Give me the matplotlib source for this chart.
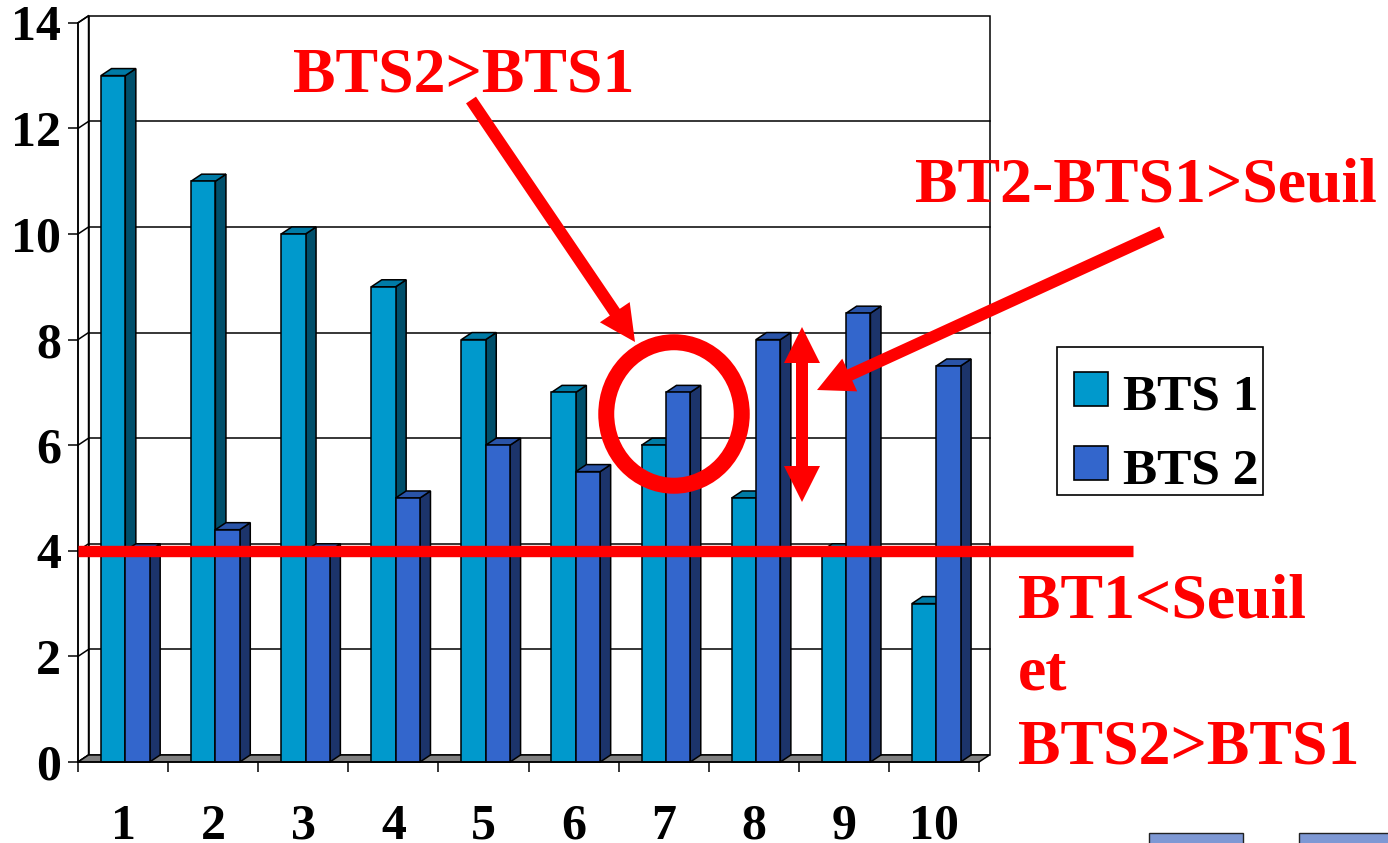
import numpy as np
import matplotlib
matplotlib.use("Agg")
import matplotlib.pyplot as plt
from matplotlib.patches import Polygon, Rectangle, Ellipse, FancyArrow

# data
categories = ["1", "2", "3", "4", "5", "6", "7", "8", "9", "10"]
series_names = ["BTS 1", "BTS 2"]
bts1 = [13, 11, 10, 9, 8, 7, 6, 5, 4, 3]
bts2 = [4, 4.4, 4, 5, 6, 5.5, 7, 8, 8.5, 7.5]
seuil = 4
y_ticks = [0, 2, 4, 6, 8, 10, 12, 14]

front_colors = ["#0099CC", "#3366CC"]
top_colors = ["#007BA6", "#2A54A8"]
side_colors = ["#004F6B", "#1C346B"]

plt.rcParams["font.family"] = "Liberation Serif"
plt.rcParams["font.weight"] = "bold"

W, H = 1388, 843
fig = plt.figure(figsize=(W / 100, H / 100), dpi=100)
ax = fig.add_axes([78 / W, 81 / H, 901 / W, 739.2 / H])
ymax = y_ticks[-1]
ax.set_xlim(0.5, len(categories) + 0.5)
ax.set_ylim(0, ymax)
ax.patch.set_visible(False)

DX, DY = 0.117, 0.133  # depth offset of the fake 3d box
x0, x1 = 0.5, len(categories) + 0.5
lw = 1.1

# walls and floor
ax.add_patch(Rectangle((x0 + DX, DY), x1 - x0, ymax, fc="white", ec="black",
                       lw=lw, clip_on=False, zorder=0))
ax.add_patch(Polygon([(x0, 0), (x0, ymax), (x0 + DX, ymax + DY), (x0 + DX, DY)],
                     closed=True, fc="white", ec="black", lw=lw, clip_on=False, zorder=0))
for v in y_ticks[1:-1]:
    ax.plot([x0 + DX, x1 + DX], [v + DY, v + DY], color="black", lw=lw, clip_on=False, zorder=1)
for v in y_ticks:
    ax.plot([x0, x0 + DX], [v, v + DY], color="black", lw=lw, clip_on=False, zorder=1)
ax.add_patch(Polygon([(x0, 0), (x1, 0), (x1 + DX, DY), (x0 + DX, DY)], closed=True,
                     fc="#808080", ec="black", lw=lw, clip_on=False, zorder=1))

# bars
bw = 0.27
offsets = [-0.245, 0.025]
for s, vals in enumerate([bts1, bts2]):
    for i, v in enumerate(vals):
        left = i + 1 + offsets[s]
        right = left + bw
        z = 3 + s
        ax.add_patch(Polygon([(right, 0), (right + DX, DY), (right + DX, v + DY), (right, v)],
                             closed=True, fc=side_colors[s], ec="black", lw=lw, zorder=z, clip_on=False))
        ax.add_patch(Polygon([(left, v), (right, v), (right + DX, v + DY), (left + DX, v + DY)],
                             closed=True, fc=top_colors[s], ec="black", lw=lw, zorder=z, clip_on=False))
        ax.add_patch(Rectangle((left, 0), bw, v, fc=front_colors[s], ec="black", lw=lw,
                               zorder=z, clip_on=False))

# axes
for sp in ["top", "right"]:
    ax.spines[sp].set_visible(False)
for sp in ["left", "bottom"]:
    ax.spines[sp].set_linewidth(lw)
    ax.spines[sp].set_zorder(6)
ax.set_yticks(y_ticks)
ax.set_yticklabels([str(t) for t in y_ticks])
ax.tick_params(axis="y", length=7.2, width=lw, pad=5, labelsize=36)
ax.set_xticks(np.arange(0.5, len(categories) + 1, 1))
ax.set_xticklabels([])
ax.set_xticks(np.arange(1, len(categories) + 1), minor=True)
ax.set_xticklabels(categories, minor=True)
ax.tick_params(axis="x", which="major", length=7.5, width=lw)
ax.tick_params(axis="x", which="minor", length=0, pad=30, labelsize=36)

# threshold line
ax.plot([x0, 12.21], [seuil, seuil], color="red", lw=8.2, solid_capstyle="butt",
        clip_on=False, zorder=10)

# annotations in pixel coordinates
ov = fig.add_axes([0, 0, 1, 1], zorder=5)
ov.set_xlim(0, W)
ov.set_ylim(H, 0)
ov.axis("off")
ov.patch.set_visible(False)

red = "#FF0000"


def arrow(xa, ya, xb, yb):
    ov.add_patch(FancyArrow(xa, ya, xb - xa, yb - ya, width=12, head_width=36,
                            head_length=36, length_includes_head=True, color=red, lw=0))


arrow(471, 100, 635, 342)
arrow(1162, 232, 817, 390)
arrow(802, 415, 802, 327)
arrow(802, 415, 802, 502)
ov.add_patch(Ellipse((674, 414), 135.5, 143.5, fill=False, ec=red, lw=11.5))

ov.text(293, 91, "BTS2>BTS1", color=red, fontsize=46, fontweight="bold", va="baseline")
ov.text(915, 202, "BT2-BTS1>Seuil", color=red, fontsize=46, fontweight="bold", va="baseline")
ov.text(1018, 617, "BT1<Seuil", color=red, fontsize=46, fontweight="bold", va="baseline")
ov.text(1018, 690, "et", color=red, fontsize=46, fontweight="bold", va="baseline")
ov.text(1018, 764, "BTS2>BTS1", color=red, fontsize=46, fontweight="bold", va="baseline")

# legend
ov.add_patch(Rectangle((1057, 347), 206, 148, fc="white", ec="black", lw=1.2))
for k, name in enumerate(series_names):
    yk = 372 + 74 * k
    ov.add_patch(Rectangle((1074, yk), 34, 34, fc=front_colors[k], ec="black", lw=1.2))
    ov.text(1123, yk + 37, name, fontsize=37, fontweight="bold", va="baseline")

# slide buttons peeking in at the bottom right
for xb in [1149, 1299]:
    ov.add_patch(Rectangle((xb, 833), 94, 14, fc="#7E98D4", ec="#222222", lw=1))

fig.savefig("out.png", dpi=100)
